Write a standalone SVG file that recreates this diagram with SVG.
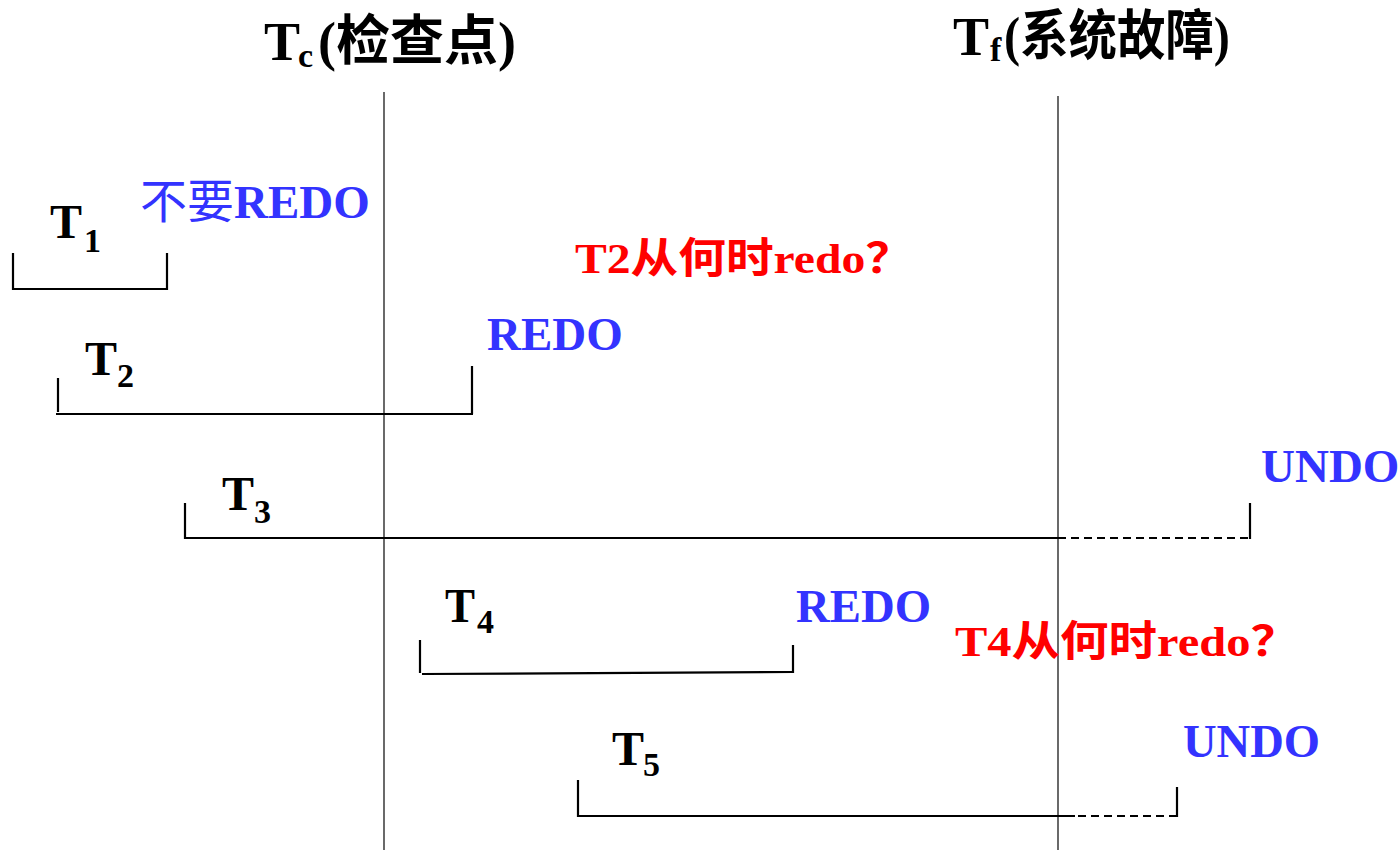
<svg xmlns="http://www.w3.org/2000/svg" width="1400" height="852" viewBox="0 0 1400 852">
<style>
  text { font-family: "Liberation Serif", "Noto Sans CJK SC", serif; font-weight: bold; }
  .t { font-size: 48px; fill: #000; }
  .sub { font-size: 34px; fill: #000; }
  .hd { font-size: 54px; fill: #000; }
  .blue { font-size: 47px; fill: #3333FF; }
  .red { font-size: 42px; fill: #FF0000; }
  .lite { font-weight: normal; }
  .time { stroke: #444; stroke-width: 1.6; fill: none; }
  .br { stroke: #000; stroke-width: 2.2; fill: none; }
  .dash { stroke: #000; stroke-width: 2.2; fill: none; stroke-dasharray: 8 5; }
</style>
<rect width="1400" height="852" fill="#fff"/>
<g id="checkpoint">
  <line class="time" x1="384" y1="92" x2="384" y2="850"/>
  <text class="hd" x="264" y="60" font-size="56">T</text>
  <text class="sub" x="298" y="67">c</text>
  <text class="hd" x="318" y="60">(检查点)</text>
</g>
<g id="failure">
  <line class="time" x1="1058" y1="96" x2="1058" y2="850"/>
  <text class="hd" x="953" y="55" font-size="56">T</text>
  <text class="sub" x="990" y="61">f</text>
  <text class="hd" x="1004" y="55" font-size="47" textLength="226" lengthAdjust="spacingAndGlyphs">(系统故障)</text>
</g>
<g id="T1">
  <path class="br" d="M13,253 V289 H167 V253"/>
  <text class="t" x="50" y="238">T</text>
  <text class="sub" x="84" y="252">1</text>
  <text class="blue" x="140" y="218"><tspan class="lite">不要</tspan>REDO</text>
</g>
<g id="question2">
  <text class="red" x="575" y="273" textLength="338" lengthAdjust="spacingAndGlyphs">T2从何时redo？</text>
</g>
<g id="T2">
  <path class="br" d="M58,378 V412 M56,414 H473 M472,366 V414"/>
  <text class="t" x="85" y="375">T</text>
  <text class="sub" x="117" y="387">2</text>
  <text class="blue" x="487" y="350">REDO</text>
</g>
<g id="T3">
  <path class="br" d="M185,503 V538 H1058"/>
  <path class="dash" d="M1058,538 H1250"/>
  <path class="br" d="M1250,503 V539"/>
  <text class="t" x="222" y="510">T</text>
  <text class="sub" x="254" y="523">3</text>
  <text class="blue" x="1261" y="482">UNDO</text>
</g>
<g id="T4">
  <path class="br" d="M420,640 V673 M422,674 L793,672 M793,645 V673"/>
  <text class="t" x="445" y="622" textLength="30" lengthAdjust="spacingAndGlyphs">T</text>
  <text class="sub" x="477" y="633">4</text>
  <text class="blue" x="796" y="622" textLength="135" lengthAdjust="spacingAndGlyphs">REDO</text>
</g>
<g id="question4">
  <text class="red" x="955" y="656" textLength="344" lengthAdjust="spacingAndGlyphs">T4从何时redo？</text>
</g>
<g id="T5">
  <path class="br" d="M578,780 V816 H1075"/>
  <path class="dash" d="M1078,816 H1177"/>
  <path class="br" d="M1177,787 V817"/>
  <text class="t" x="612" y="765">T</text>
  <text class="sub" x="643" y="776">5</text>
  <text class="blue" x="1183" y="757" textLength="137" lengthAdjust="spacingAndGlyphs">UNDO</text>
</g>
</svg>
